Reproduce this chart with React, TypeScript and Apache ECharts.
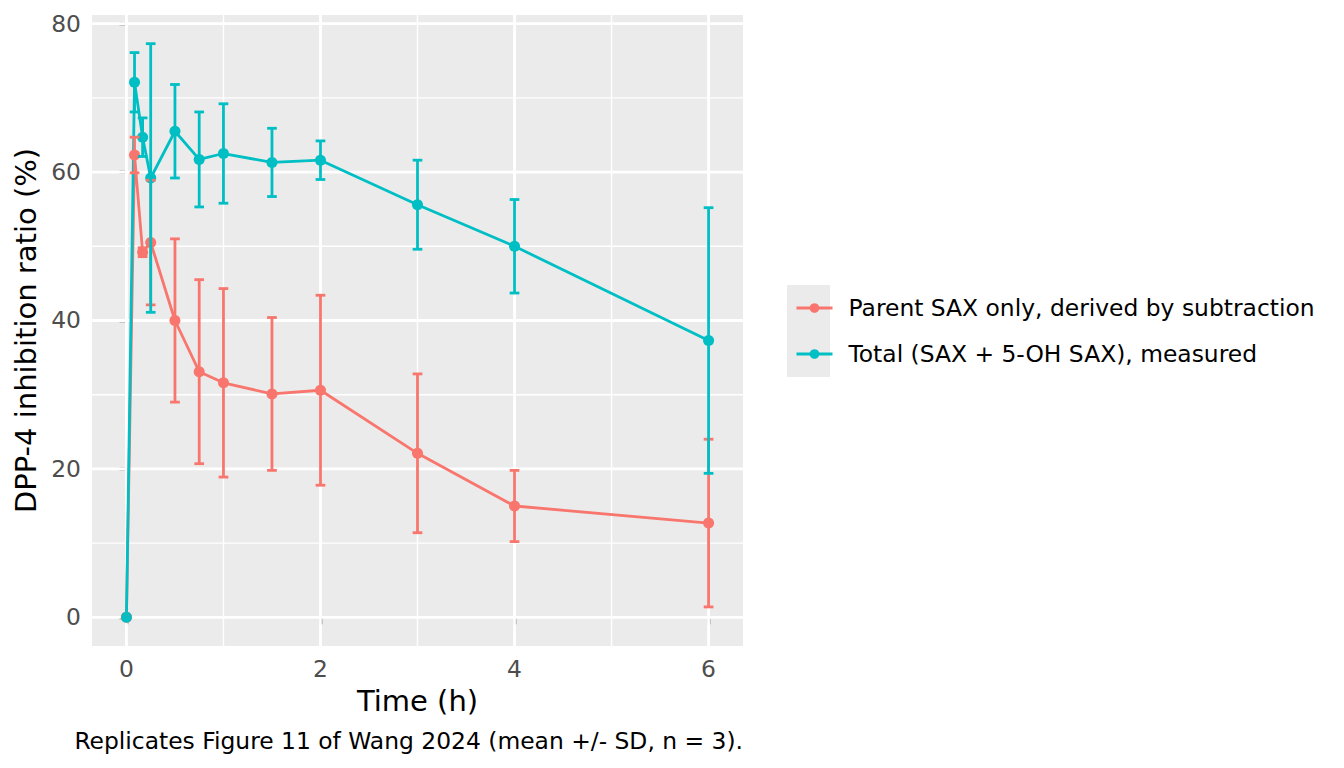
import React, { useEffect, useRef } from "react";
import * as echarts from "echarts";

// sampling times (h)
const times = [0, 0.0833, 0.1667, 0.25, 0.5, 0.75, 1, 1.5, 2, 3, 4, 6];

const parentName = "Parent SAX only, derived by subtraction";
const totalName = "Total (SAX + 5-OH SAX), measured";

const parentMean = [0, 62.3, 49.2, 50.5, 40.0, 33.1, 31.6, 30.1, 30.6, 22.1, 15.0, 12.7];
const parentSd = [0, 2.4, 0.6, 8.4, 11.0, 12.4, 12.7, 10.3, 12.8, 10.7, 4.8, 11.3];

const totalMean = [0, 72.1, 64.7, 59.2, 65.5, 61.7, 62.5, 61.3, 61.6, 55.6, 50.0, 37.3];
const totalSd = [0, 4.0, 2.6, 18.1, 6.3, 6.4, 6.7, 4.6, 2.6, 6.0, 6.3, 17.9];

const xTicks = [0, 2, 4, 6];
const xMinor = [1, 3, 5];
const yTicks = [0, 20, 40, 60, 80];
const yMinor = [10, 30, 50, 70];

const RED = "#F8766D";
const TEAL = "#00BFC4";
const FONT = "DejaVu Sans";
const SMALL = 23.4;
const TITLE = 29;
const CAP = 0.05; // half width of error bar caps, in hours

const App = () => {
  const chartRef = useRef<HTMLDivElement>(null);

  useEffect(() => {
    // @ts-ignore
    const chart = echarts.init(chartRef.current, null, { renderer: "svg" });

    // panel limits like ggplot: data range incl. error bars, plus 5%
    const xLo = Math.min(...times) - CAP;
    const xHi = Math.max(...times) + CAP;
    const xPad = (xHi - xLo) * 0.05;
    const allLo = [...parentMean.map((m, i) => m - parentSd[i]), ...totalMean.map((m, i) => m - totalSd[i])];
    const allHi = [...parentMean.map((m, i) => m + parentSd[i]), ...totalMean.map((m, i) => m + totalSd[i])];
    const yLo = Math.min(...allLo);
    const yHi = Math.max(...allHi);
    const yPad = (yHi - yLo) * 0.05;

    const gridData = [
      ...xTicks.map((v) => [v, 0, 1]),
      ...xMinor.map((v) => [v, 0, 0]),
      ...yTicks.map((v) => [v, 1, 1]),
      ...yMinor.map((v) => [v, 1, 0]),
    ];

    const errorBars = (name: string, mean: number[], sd: number[], color: string) => ({
      name,
      type: "custom",
      z: 4,
      silent: true,
      encode: { x: 0, y: [1, 2] },
      data: times.map((t, i) => [t, mean[i] - sd[i], mean[i] + sd[i]]),
      renderItem: (params: any, api: any) => {
        const x = api.value(0);
        const top = api.coord([x, api.value(2)]);
        const bot = api.coord([x, api.value(1)]);
        const half = api.coord([x + CAP, api.value(2)])[0] - top[0];
        const style = { stroke: color, lineWidth: 2.8 };
        return {
          type: "group",
          children: [
            { type: "line", shape: { x1: top[0], y1: top[1], x2: bot[0], y2: bot[1] }, style },
            { type: "line", shape: { x1: top[0] - half, y1: top[1], x2: top[0] + half, y2: top[1] }, style },
            { type: "line", shape: { x1: bot[0] - half, y1: bot[1], x2: bot[0] + half, y2: bot[1] }, style },
          ],
        };
      },
    });

    const lineSeries = (name: string, mean: number[], color: string) => ({
      name,
      type: "line",
      z: 3,
      data: times.map((t, i) => [t, mean[i]]),
      symbol: "circle",
      symbolSize: 11,
      showSymbol: true,
      itemStyle: { color },
      lineStyle: { color, width: 2.8 },
    });

    const options = {
      animation: false,
      backgroundColor: "#FFFFFF",
      textStyle: { fontFamily: FONT },
      grid: {
        left: 92,
        top: 15,
        right: 601,
        bottom: 122,
        show: true,
        backgroundColor: "#EBEBEB",
        borderWidth: 0,
      },
      legend: {
        data: [parentName, totalName],
        orient: "vertical",
        left: 790,
        top: 291,
        itemWidth: 36,
        itemHeight: 12,
        itemGap: 22,
        selectedMode: false,
        lineStyle: { width: 3 },
        textStyle: {
          fontFamily: FONT,
          fontSize: SMALL,
          color: "#000000",
          lineHeight: 24,
          padding: [0, 0, 0, 11],
        },
      },
      xAxis: {
        type: "value",
        min: xLo - xPad,
        max: xHi + xPad,
        name: "Time (h)",
        nameLocation: "middle",
        nameGap: 40,
        nameTextStyle: { fontFamily: FONT, fontSize: TITLE, color: "#000000" },
        axisLine: { show: false },
        splitLine: { show: false },
        axisTick: { show: true, customValues: xTicks, length: 7, lineStyle: { color: "#333333", width: 2.4 } },
        axisLabel: { customValues: xTicks, margin: 11, fontFamily: FONT, fontSize: SMALL, color: "#4D4D4D" },
      },
      yAxis: {
        type: "value",
        min: yLo - yPad,
        max: yHi + yPad,
        name: "DPP-4 inhibition ratio (%)",
        nameLocation: "middle",
        nameGap: 52,
        nameTextStyle: { fontFamily: FONT, fontSize: TITLE, color: "#000000" },
        axisLine: { show: false },
        splitLine: { show: false },
        axisTick: { show: true, customValues: yTicks, length: 7, lineStyle: { color: "#333333", width: 2.4 } },
        axisLabel: { customValues: yTicks, margin: 11, fontFamily: FONT, fontSize: SMALL, color: "#4D4D4D" },
      },
      graphic: [
        {
          type: "rect",
          left: 787,
          top: 285,
          shape: { width: 43, height: 92 },
          style: { fill: "#EBEBEB" },
          z: -1,
        },
        {
          type: "text",
          x: 743,
          y: 741,
          style: {
            text: "Replicates Figure 11 of Wang 2024 (mean +/- SD, n = 3).",
            fontFamily: FONT,
            fontSize: SMALL,
            fill: "#000000",
            textAlign: "right",
            textVerticalAlign: "middle",
          },
        },
      ],
      series: [
        {
          name: "grid",
          type: "custom",
          z: 1,
          silent: true,
          data: gridData,
          renderItem: (params: any, api: any) => {
            const cs = params.coordSys;
            const v = api.value(0);
            const dir = api.value(1);
            const width = api.value(2) ? 2.8 : 1.4;
            const style = { stroke: "#FFFFFF", lineWidth: width };
            if (dir === 0) {
              const px = api.coord([v, 0])[0];
              return { type: "line", shape: { x1: px, y1: cs.y, x2: px, y2: cs.y + cs.height }, style };
            }
            const py = api.coord([0, v])[1];
            return { type: "line", shape: { x1: cs.x, y1: py, x2: cs.x + cs.width, y2: py }, style };
          },
        },
        lineSeries(parentName, parentMean, RED),
        lineSeries(totalName, totalMean, TEAL),
        errorBars("parent-sd", parentMean, parentSd, RED),
        errorBars("total-sd", totalMean, totalSd, TEAL),
      ],
    };

    chart.setOption(options);

    return () => {
      chart.dispose();
    };
  }, []);

  return (
    <div
      ref={chartRef}
      style={{ position: "fixed", left: 0, top: 0, width: "1344px", height: "768px" }}
    />
  );
};

export default App;
